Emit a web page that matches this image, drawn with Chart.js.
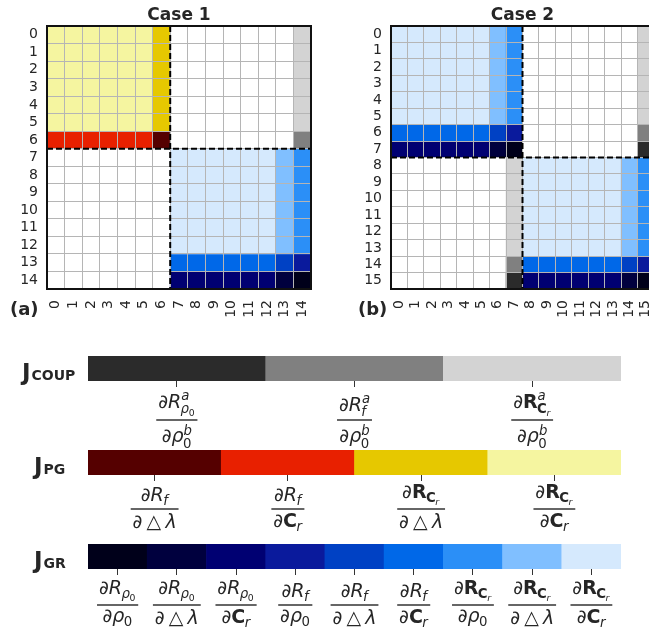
<!DOCTYPE html>
<html>
<head>
<meta charset="utf-8">
<script src="https://cdn.jsdelivr.net/npm/chart.js@4.4.1/dist/chart.umd.min.js"></script>
<style>
  html, body { margin: 0; padding: 0; background: #fff; width: 649px; height: 630px; overflow: hidden; position: relative; }
  canvas { position: absolute; }
</style>
</head>
<body>
<canvas id="case1" width="330" height="330" style="left:0;top:0"></canvas>
<canvas id="case2" width="310" height="330" style="left:344px;top:0"></canvas>
<canvas id="coup" width="649" height="110" style="left:0;top:340px"></canvas>
<canvas id="pg" width="649" height="110" style="left:0;top:434px"></canvas>
<canvas id="gr" width="649" height="102" style="left:0;top:528px"></canvas>
<script>
// colour of each block of the jacobian
const coupColors = ['#2b2b2b', '#808080', '#d3d3d3'];
const pgColors = ['#550000', '#e82000', '#e6c800', '#f5f5a0'];
const grColors = ['#00001a', '#00003e', '#000072', '#0a1a9c', '#0041c4', '#0068e8', '#2b8ff7', '#80bfff', '#d5e9fd'];

// derivative labels under each colorbar (numerator, denominator)
const coupLabels = [
  ['\\partial R^a_{\\rho_0}', '\\partial \\rho^b_0'],
  ['\\partial R^a_f', '\\partial \\rho^b_0'],
  ['\\partial \\mathbf{R}^a_{\\mathbf{C}_r}', '\\partial \\rho^b_0']
];
const pgLabels = [
  ['\\partial R_f', '\\partial \\triangle \\lambda'],
  ['\\partial R_f', '\\partial \\mathbf{C}_r'],
  ['\\partial \\mathbf{R}_{\\mathbf{C}_r}', '\\partial \\triangle \\lambda'],
  ['\\partial \\mathbf{R}_{\\mathbf{C}_r}', '\\partial \\mathbf{C}_r']
];
const grLabels = [
  ['\\partial R_{\\rho_0}', '\\partial \\rho_0'],
  ['\\partial R_{\\rho_0}', '\\partial \\triangle \\lambda'],
  ['\\partial R_{\\rho_0}', '\\partial \\mathbf{C}_r'],
  ['\\partial R_f', '\\partial \\rho_0'],
  ['\\partial R_f', '\\partial \\triangle \\lambda'],
  ['\\partial R_f', '\\partial \\mathbf{C}_r'],
  ['\\partial \\mathbf{R}_{\\mathbf{C}_r}', '\\partial \\rho_0'],
  ['\\partial \\mathbf{R}_{\\mathbf{C}_r}', '\\partial \\triangle \\lambda'],
  ['\\partial \\mathbf{R}_{\\mathbf{C}_r}', '\\partial \\mathbf{C}_r']
];

// matrix cells, one letter per cell:
// w empty, k/m/l coupling, d/r/g/y PG, 1..9 GR
const case1Rows = [
  'yyyyyygwwwwwwwl',
  'yyyyyygwwwwwwwl',
  'yyyyyygwwwwwwwl',
  'yyyyyygwwwwwwwl',
  'yyyyyygwwwwwwwl',
  'yyyyyygwwwwwwwl',
  'rrrrrrdwwwwwwwm',
  'wwwwwww99999987',
  'wwwwwww99999987',
  'wwwwwww99999987',
  'wwwwwww99999987',
  'wwwwwww99999987',
  'wwwwwww99999987',
  'wwwwwww66666654',
  'wwwwwww33333321'
];
const case2Rows = [
  '99999987wwwwwwwl',
  '99999987wwwwwwwl',
  '99999987wwwwwwwl',
  '99999987wwwwwwwl',
  '99999987wwwwwwwl',
  '99999987wwwwwwwl',
  '66666654wwwwwwwm',
  '33333321wwwwwwwk',
  'wwwwwwwl99999987',
  'wwwwwwwl99999987',
  'wwwwwwwl99999987',
  'wwwwwwwl99999987',
  'wwwwwwwl99999987',
  'wwwwwwwl99999987',
  'wwwwwwwm66666654',
  'wwwwwwwk33333321'
];

const GRID = '#b5b5b5';
const INK = '#262626';
const FACE = '"DejaVu Sans", sans-serif';
const MATH_SIZE = 19;

const cellColors = { w: '#ffffff' };
'kml'.split('').forEach((c, i) => { cellColors[c] = coupColors[i]; });
'drgy'.split('').forEach((c, i) => { cellColors[c] = pgColors[i]; });
grColors.forEach((c, i) => { cellColors[String(i + 1)] = c; });

// --- tiny mathtext renderer for the fraction labels ---
const SYMBOLS = {
  '\\partial': ['∂', 'n'],
  '\\rho': ['ρ', 'i'],
  '\\lambda': ['λ', 'i'],
  '\\triangle': ['△', 'n', true]
};

function parseTeX(src) {
  const toks = src.match(/\\[a-zA-Z]+|[{}^_]|\S/g);
  let p = 0;
  function group(bold) {
    const items = [];
    while (p < toks.length && toks[p] !== '}') {
      const t = toks[p];
      if (t === '^' || t === '_') {
        p++;
        const arg = atom(bold);
        items[items.length - 1][t === '^' ? 'sup' : 'sub'] = arg;
      } else {
        items.push({ base: atom(bold) });
      }
    }
    return items;
  }
  function atom(bold) {
    const t = toks[p++];
    if (t === '{') { const g = group(bold); p++; return g; }
    if (t === '\\mathbf') return atom(true);
    if (SYMBOLS[t]) return { ch: SYMBOLS[t][0], st: SYMBOLS[t][1], sp: SYMBOLS[t][2] };
    return { ch: t, st: bold ? 'b' : (/[a-zA-Z]/.test(t) ? 'i' : 'n') };
  }
  return group(false);
}

function mathFont(st, size) {
  return (st === 'i' ? 'italic ' : '') + (st === 'b' ? 'bold ' : '') + size + 'px ' + FACE;
}

function glyphBox(ctx, g, size) {
  ctx.font = mathFont(g.st, size);
  const m = ctx.measureText(g.ch);
  const pad = g.sp ? size * 0.22 : 0;
  return {
    w: m.width + 2 * pad,
    asc: m.actualBoundingBoxAscent,
    desc: m.actualBoundingBoxDescent,
    draw(x, y) { ctx.font = mathFont(g.st, size); ctx.fillText(g.ch, x + pad, y); }
  };
}

function listBox(ctx, items, size) {
  const parts = [];
  let w = 0, asc = 0, desc = 0;
  items.forEach(it => {
    const b = nodeBox(ctx, it.base, size);
    const ss = size * 0.7;
    const sup = it.sup ? nodeBox(ctx, it.sup, ss) : null;
    const sub = it.sub ? nodeBox(ctx, it.sub, ss) : null;
    parts.push({ box: b, dx: w, dy: 0 });
    asc = Math.max(asc, b.asc);
    desc = Math.max(desc, b.desc);
    let sw = 0;
    if (sup) {
      const dy = -size * 0.4;
      parts.push({ box: sup, dx: w + b.w, dy });
      sw = Math.max(sw, sup.w);
      asc = Math.max(asc, sup.asc - dy);
    }
    if (sub) {
      const dy = size * (sup ? 0.3 : 0.22);
      parts.push({ box: sub, dx: w + b.w - size * 0.03, dy });
      sw = Math.max(sw, sub.w);
      desc = Math.max(desc, sub.desc + dy);
    }
    w += b.w + sw;
  });
  return { w, asc, desc, draw(x, y) { parts.forEach(q => q.box.draw(x + q.dx, y + q.dy)); } };
}

function nodeBox(ctx, node, size) {
  return Array.isArray(node) ? listBox(ctx, node, size) : glyphBox(ctx, node, size);
}

function drawFrac(ctx, num, den, cx, lineY, size) {
  const n = nodeBox(ctx, parseTeX(num), size);
  const d = nodeBox(ctx, parseTeX(den), size);
  const w = Math.max(n.w, d.w) + size * 0.2;
  const gap = size * 0.2;
  ctx.fillStyle = INK;
  ctx.textAlign = 'left';
  ctx.textBaseline = 'alphabetic';
  ctx.fillRect(cx - w / 2, lineY - 0.7, w, 1.4);
  n.draw(cx - n.w / 2, lineY - gap - n.desc);
  d.draw(cx - d.w / 2, lineY + gap + d.asc);
}

// --- jacobian sparsity matrices ---
function heatmap(id, rows, cut, title, tag, padRight) {
  const n = rows.length;
  const idx = rows.map((_, i) => String(i));
  const datasets = rows.map(r => ({
    data: idx.map(() => 1),
    backgroundColor: r.split('').map(c => cellColors[c]),
    borderWidth: 0,
    barPercentage: 1,
    categoryPercentage: 1
  }));
  const tickFont = { family: FACE, size: 14 };
  const noMargins = s => { s.paddingLeft = 0; s.paddingRight = 0; s.paddingTop = 0; s.paddingBottom = 0; };

  const overlay = {
    id: 'overlay',
    afterDraw(chart) {
      const { ctx, chartArea: a, scales: { x, y } } = chart;
      ctx.save();
      // block separators
      const cx = (x.getPixelForValue(cut - 1) + x.getPixelForValue(cut)) / 2;
      const cy = y.getPixelForValue(cut);
      ctx.strokeStyle = '#000';
      ctx.lineWidth = 2;
      ctx.setLineDash([6, 3]);
      ctx.beginPath();
      ctx.moveTo(cx, a.top); ctx.lineTo(cx, a.bottom);
      ctx.moveTo(a.left, cy); ctx.lineTo(a.right, cy);
      ctx.stroke();
      ctx.setLineDash([]);
      ctx.strokeStyle = '#111';
      ctx.lineWidth = 2;
      ctx.strokeRect(a.left, a.top, a.right - a.left, a.bottom - a.top);
      // title and panel tag
      ctx.fillStyle = INK;
      ctx.textAlign = 'center';
      ctx.textBaseline = 'alphabetic';
      ctx.font = 'bold 17px ' + FACE;
      ctx.fillText(title, (a.left + a.right) / 2, 20);
      ctx.textAlign = 'left';
      ctx.font = 'bold 18px ' + FACE;
      ctx.fillText(tag[0], tag[1], 315);
      ctx.restore();
    }
  };

  new Chart(document.getElementById(id), {
    type: 'bar',
    data: { labels: idx, datasets },
    options: {
      responsive: false,
      animation: false,
      devicePixelRatio: 1,
      layout: { padding: { top: 26, right: padRight, bottom: 0, left: 0 } },
      plugins: { legend: { display: false }, tooltip: { enabled: false } },
      scales: {
        x: {
          stacked: true,
          offset: true,
          grid: { offset: true, color: GRID, z: 1, drawTicks: false },
          border: { display: false },
          ticks: { minRotation: 90, maxRotation: 90, padding: 11, font: tickFont, color: INK, autoSkip: false },
          afterFit: s => { s.height = 41; noMargins(s); }
        },
        y: {
          stacked: true,
          min: 0,
          max: n,
          reverse: true,
          ticks: { display: false, stepSize: 1 },
          grid: { color: GRID, z: 1, drawTicks: false },
          border: { display: false },
          afterFit: s => { s.width = 0; noMargins(s); }
        },
        rows: {
          type: 'category',
          labels: idx,
          position: 'left',
          offset: true,
          grid: { display: false, drawTicks: false },
          border: { display: false },
          ticks: { padding: 9, font: tickFont, color: INK, autoSkip: false },
          afterFit: s => { s.width = 47; noMargins(s); }
        }
      }
    },
    plugins: [overlay]
  });
}

// --- colour keys ---
function colorbar(id, name, colors, labels, lineOff, nameX, padBottom) {
  const keys = {
    id: 'keys',
    afterDraw(chart) {
      const { ctx, chartArea: a, scales: { x } } = chart;
      ctx.save();
      labels.forEach((l, i) => drawFrac(ctx, l[0], l[1], x.getPixelForValue(i), a.bottom + lineOff, MATH_SIZE));
      ctx.fillStyle = INK;
      ctx.textAlign = 'left';
      ctx.textBaseline = 'alphabetic';
      ctx.font = 'bold 23px ' + FACE;
      ctx.fillText(name[0], nameX, a.bottom - 1);
      const jw = ctx.measureText(name[0]).width;
      ctx.font = 'bold 14px ' + FACE;
      ctx.fillText(name[1], nameX + jw + 1, a.bottom - 1);
      ctx.restore();
    }
  };
  new Chart(document.getElementById(id), {
    type: 'bar',
    data: {
      labels: labels.map((_, i) => i),
      datasets: [{ data: colors.map(() => 1), backgroundColor: colors, borderWidth: 0, barPercentage: 1, categoryPercentage: 1 }]
    },
    options: {
      responsive: false,
      animation: false,
      devicePixelRatio: 1,
      layout: { padding: { top: 16, right: 28, bottom: padBottom, left: 88 } },
      plugins: { legend: { display: false }, tooltip: { enabled: false } },
      scales: {
        x: {
          grid: { offset: false, drawOnChartArea: false, drawTicks: true, tickLength: 6, color: '#333', tickWidth: 1 },
          border: { display: false },
          ticks: { display: false },
          afterFit: s => { s.height = 6; }
        },
        y: { display: false, min: 0, max: 1 }
      }
    },
    plugins: [keys]
  });
}

heatmap('case1', case1Rows, 7, 'Case 1', ['(a)', 10], 19);
heatmap('case2', case2Rows, 8, 'Case 2', ['(b)', 14], 0);
colorbar('coup', ['J', 'COUP'], coupColors, coupLabels, 39, 22, 63);
colorbar('pg', ['J', 'PG'], pgColors, pgLabels, 34, 34, 63);
colorbar('gr', ['J', 'GR'], grColors, grLabels, 36, 34, 55);
</script>
</body>
</html>
